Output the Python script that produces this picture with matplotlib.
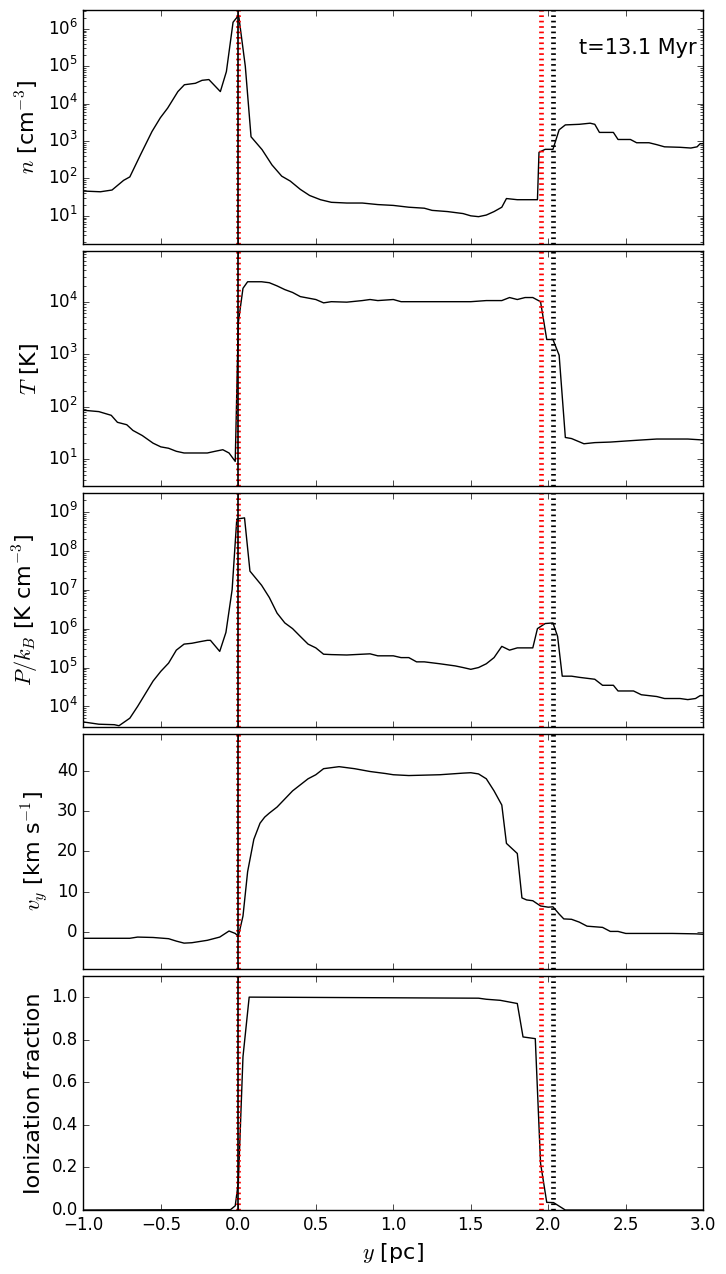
import matplotlib
matplotlib.use("Agg")
import matplotlib.pyplot as plt

plt.style.use("classic")
plt.rcParams["figure.facecolor"] = "white"
plt.rcParams["savefig.facecolor"] = "white"
plt.rcParams["lines.scale_dashes"] = False

# density
n_x = [-1.0, -0.89, -0.815, -0.74, -0.70, -0.63, -0.557, -0.503, -0.456, -0.39, -0.348,
       -0.277, -0.234, -0.19, -0.116, -0.077, -0.034, 0.002, 0.045, 0.082, 0.153, 0.217,
       0.28, 0.335, 0.40, 0.46, 0.53, 0.6, 0.7, 0.8, 0.9, 1.0, 1.1, 1.2, 1.25, 1.35, 1.45,
       1.5, 1.55, 1.6, 1.65, 1.7, 1.73, 1.8, 1.93, 1.94, 1.98, 2.03, 2.07, 2.11, 2.2, 2.27,
       2.3, 2.33, 2.42, 2.45, 2.53, 2.57, 2.65, 2.7, 2.75, 2.85, 2.92, 2.96, 2.98, 3.0]
n_val = [46, 44, 49, 89, 110, 440, 1800, 4200, 7600, 21000, 32000,
         35000, 42000, 44000, 21000, 72000, 1.5e6, 2.3e6, 1.0e5, 1300, 590, 230,
         115, 85, 51, 35, 27, 23, 22, 22, 20, 19, 17, 16, 14, 13, 11.5,
         10, 9.5, 10.5, 13, 17, 29, 27, 27, 500, 600, 600, 2000, 2700, 2800, 3000,
         2800, 1700, 1700, 1100, 1100, 900, 900, 800, 700, 680, 650, 700, 850, 850]

# temperature
T_x = [-1.0, -0.9, -0.82, -0.78, -0.72, -0.68, -0.62, -0.55, -0.5, -0.45, -0.4, -0.35,
       -0.3, -0.2, -0.15, -0.1, -0.06, -0.02, 0.0, 0.03, 0.06, 0.15, 0.2, 0.25, 0.3, 0.35,
       0.4, 0.5, 0.55, 0.6, 0.7, 0.8, 0.85, 0.9, 1.0, 1.05, 1.2, 1.5, 1.6, 1.7, 1.75, 1.8,
       1.85, 1.9, 1.95, 1.99, 2.03, 2.07, 2.11, 2.15, 2.23, 2.3, 2.4, 2.5, 2.6, 2.7, 2.9, 3.0]
T_val = [85, 80, 68, 50, 45, 35, 28, 20, 17, 16, 14, 13,
         13, 13, 14, 15, 13, 9, 4000, 18000, 24000, 24000, 23000, 20000, 17000, 15000,
         12500, 11000, 9500, 10000, 9800, 10500, 11000, 10500, 11000, 10000, 10000, 10000, 10500, 10500, 12000, 11000,
         12000, 12000, 10000, 1900, 1900, 950, 25.7, 24.5, 19.5, 20.5, 21, 22, 23, 24, 24, 23]

# pressure
P_x = [-1.0, -0.9, -0.8, -0.77, -0.7, -0.65, -0.55, -0.5, -0.45, -0.4, -0.35, -0.3, -0.25,
       -0.2, -0.18, -0.12, -0.08, -0.04, -0.01, 0.04, 0.075, 0.15, 0.2, 0.25, 0.3, 0.35, 0.4,
       0.45, 0.5, 0.55, 0.6, 0.7, 0.8, 0.85, 0.9, 1.0, 1.05, 1.1, 1.15, 1.2, 1.3, 1.4, 1.45,
       1.5, 1.55, 1.6, 1.65, 1.7, 1.75, 1.8, 1.9, 1.93, 1.98, 2.03, 2.06, 2.09, 2.15, 2.2,
       2.3, 2.35, 2.42, 2.45, 2.55, 2.6, 2.7, 2.75, 2.85, 2.9, 2.95, 2.98, 3.0]
P_val = [4000, 3500, 3400, 3200, 5000, 10000, 45000, 80000, 1.3e5, 2.8e5, 4.0e5, 4.2e5, 4.6e5,
         5.0e5, 5.0e5, 2.6e5, 8.0e5, 1.0e7, 6.5e8, 7.0e8, 3.0e7, 1.3e7, 6.3e6, 2.5e6, 1.4e6, 1.0e6, 6.3e5,
         4.0e5, 3.2e5, 2.2e5, 2.15e5, 2.1e5, 2.2e5, 2.25e5, 2.0e5, 2.0e5, 1.8e5, 1.8e5, 1.4e5, 1.4e5, 1.25e5, 1.1e5, 1.0e5,
         9.0e4, 1.0e5, 1.25e5, 1.8e5, 3.5e5, 2.8e5, 3.2e5, 3.2e5, 1.0e6, 1.35e6, 1.4e6, 6.3e5, 6.0e4, 6.0e4, 5.6e4,
         5.0e4, 3.5e4, 3.5e4, 2.5e4, 2.5e4, 2.0e4, 1.8e4, 1.6e4, 1.6e4, 1.5e4, 1.6e4, 1.9e4, 1.9e4]

# velocity
v_x = [-1.0, -0.7, -0.65, -0.55, -0.45, -0.4, -0.35, -0.3, -0.2, -0.12, -0.06, -0.02, 0.0,
       0.03, 0.06, 0.1, 0.14, 0.17, 0.2, 0.25, 0.3, 0.35, 0.4, 0.45, 0.5, 0.55, 0.65, 0.75,
       0.85, 0.95, 1.0, 1.1, 1.3, 1.45, 1.5, 1.55, 1.6, 1.65, 1.7, 1.73, 1.8, 1.83, 1.86, 1.9,
       1.95, 2.0, 2.03, 2.07, 2.1, 2.15, 2.2, 2.25, 2.35, 2.4, 2.45, 2.5, 2.6, 2.8, 2.95, 3.0]
v_val = [-1.5, -1.5, -1.2, -1.3, -1.6, -2.2, -2.7, -2.6, -2.0, -1.2, 0.3, -0.3, -1.0,
         4, 15, 23, 27, 28.5, 29.5, 31, 33, 35, 36.5, 38, 39, 40.5, 41, 40.5,
         39.8, 39.3, 39, 38.8, 39, 39.4, 39.5, 39.2, 38, 35, 31.5, 22, 19.5, 8.5, 8, 7.8,
         6.5, 6.2, 6.3, 4.5, 3.3, 3.2, 2.5, 1.5, 1.2, 0.2, 0.2, -0.3, -0.3, -0.3, -0.4, -0.5]

# ionization fraction
x_x = [-1.0, -0.05, -0.02, 0.0, 0.03, 0.07, 1.55, 1.6, 1.69, 1.80, 1.837, 1.916, 1.95,
       1.99, 2.034, 2.11, 3.0]
x_val = [0.0, 0.002, 0.02, 0.13, 0.72, 1.0, 0.995, 0.99, 0.985, 0.97, 0.813, 0.805, 0.22,
         0.036, 0.035, 0.0, 0.0]

red_lines = [0.0, 1.95]
black_dashed = [2.03]
black_solid = [0.0]

fig, axes = plt.subplots(5, 1, sharex=True, figsize=(7.26, 12.74), dpi=100)
plt.subplots_adjust(left=0.1148, right=0.9687, top=0.9922, bottom=0.0502, hspace=0.031)

panels = [
    (n_x, n_val, r"$n$ [cm$^{-3}$]", True, (1.75, 3.2e6)),
    (T_x, T_val, r"$T$ [K]", True, (3.1, 9.1e4)),
    (P_x, P_val, r"$P/k_B$ [K cm$^{-3}$]", True, (2950, 3.07e9)),
    (v_x, v_val, r"$v_y$ [km s$^{-1}$]", False, (-9, 49)),
    (x_x, x_val, "Ionization fraction", False, (0, 1.1)),
]

for ax, (xs, ys, lab, logy, lims) in zip(axes, panels):
    ax.plot(xs, ys, color="k", lw=1.0)
    if logy:
        ax.set_yscale("log")
    ax.set_ylim(lims)
    ax.set_ylabel(lab, fontsize=16)
    for xv in red_lines:
        ax.axvline(xv, color="r", lw=3.4, dashes=(1.2, 2.7))
    for xv in black_dashed:
        ax.axvline(xv, color="k", lw=3.4, dashes=(1.2, 2.7))
    for xv in black_solid:
        ax.axvline(xv, color="k", lw=1.2)
    ax.tick_params(labelsize=12)

axes[-1].set_xlim(-1, 3)
axes[-1].set_xlabel(r"$y$ [pc]", fontsize=16)
axes[0].text(0.99, 0.813, "t=13.1 Myr", transform=axes[0].transAxes,
             ha="right", va="baseline", fontsize=15)

fig.savefig("out.png", dpi=100)
